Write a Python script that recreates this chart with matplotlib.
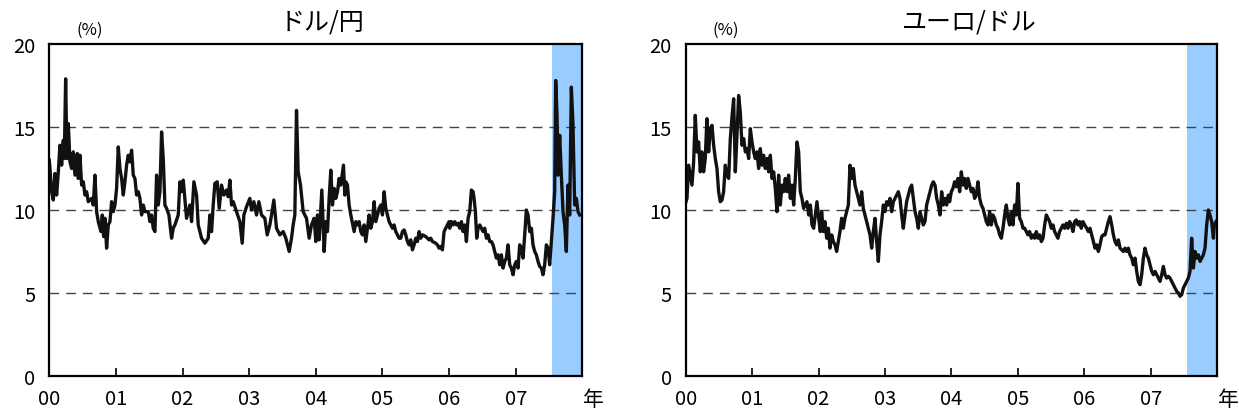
import matplotlib.pyplot as plt

plt.rcParams['font.family'] = ['Noto Sans CJK JP', 'DejaVu Sans']

titles = ['ドル/円', 'ユーロ/ドル']
year_ticks = [2000, 2001, 2002, 2003, 2004, 2005, 2006, 2007]
year_labels = ['00', '01', '02', '03', '04', '05', '06', '07']
shade_start = 2007.54
shade_end = 2008.0

# implied volatility, dollar/yen (%)
usdjpy_t = [
    2000.000, 2000.010, 2000.035, 2000.060, 2000.085, 2000.110, 2000.135, 2000.160, 2000.185, 2000.210,
    2000.225, 2000.245, 2000.265, 2000.285, 2000.310, 2000.335, 2000.360, 2000.385, 2000.420, 2000.435,
    2000.460, 2000.485, 2000.510, 2000.535, 2000.560, 2000.585, 2000.635, 2000.660, 2000.685, 2000.710,
    2000.735, 2000.775, 2000.795, 2000.815, 2000.835, 2000.860, 2000.885, 2000.910, 2000.935, 2000.960,
    2000.985, 2001.010, 2001.035, 2001.060, 2001.085, 2001.110, 2001.135, 2001.160, 2001.185, 2001.210,
    2001.235, 2001.260, 2001.285, 2001.310, 2001.335, 2001.360, 2001.385, 2001.410, 2001.435, 2001.485,
    2001.510, 2001.535, 2001.560, 2001.585, 2001.610, 2001.635, 2001.660, 2001.685, 2001.710, 2001.735,
    2001.760, 2001.795, 2001.835, 2001.860, 2001.885, 2001.935, 2001.960, 2001.985, 2002.010, 2002.060,
    2002.110, 2002.135, 2002.170, 2002.210, 2002.235, 2002.285, 2002.335, 2002.385, 2002.410, 2002.435,
    2002.460, 2002.485, 2002.520, 2002.550, 2002.585, 2002.620, 2002.660, 2002.685, 2002.710, 2002.735,
    2002.760, 2002.810, 2002.860, 2002.895, 2002.920, 2002.960, 2003.010, 2003.035, 2003.070, 2003.110,
    2003.145, 2003.185, 2003.235, 2003.270, 2003.310, 2003.335, 2003.370, 2003.410, 2003.460, 2003.510,
    2003.550, 2003.600, 2003.635, 2003.660, 2003.685, 2003.710, 2003.735, 2003.770, 2003.810, 2003.860,
    2003.900, 2003.935, 2003.975, 2004.000, 2004.025, 2004.050, 2004.090, 2004.125, 2004.150, 2004.175,
    2004.200, 2004.225, 2004.250, 2004.275, 2004.300, 2004.325, 2004.350, 2004.375, 2004.415, 2004.435,
    2004.450, 2004.475, 2004.500, 2004.525, 2004.550, 2004.575, 2004.600, 2004.625, 2004.650, 2004.675,
    2004.700, 2004.725, 2004.750, 2004.775, 2004.800, 2004.825, 2004.850, 2004.875, 2004.900, 2004.925,
    2004.950, 2004.975, 2005.000, 2005.025, 2005.050, 2005.075, 2005.100, 2005.125, 2005.150, 2005.175,
    2005.200, 2005.225, 2005.250, 2005.275, 2005.300, 2005.325, 2005.350, 2005.375, 2005.400, 2005.425,
    2005.450, 2005.475, 2005.500, 2005.525, 2005.550, 2005.575, 2005.600, 2005.650, 2005.700, 2005.725,
    2005.750, 2005.800, 2005.825, 2005.850, 2005.875, 2005.900, 2005.925, 2005.950, 2006.000, 2006.010,
    2006.035, 2006.060, 2006.085, 2006.110, 2006.135, 2006.160, 2006.185, 2006.210, 2006.235, 2006.260,
    2006.285, 2006.310, 2006.335, 2006.360, 2006.375, 2006.395, 2006.415, 2006.435, 2006.460, 2006.485,
    2006.510, 2006.535, 2006.560, 2006.585, 2006.610, 2006.635, 2006.660, 2006.685, 2006.710, 2006.735,
    2006.760, 2006.785, 2006.810, 2006.835, 2006.860, 2006.885, 2006.910, 2006.935, 2006.960, 2006.985,
    2007.010, 2007.035, 2007.060, 2007.085, 2007.110, 2007.135, 2007.160, 2007.185, 2007.210, 2007.235,
    2007.260, 2007.285, 2007.310, 2007.335, 2007.360, 2007.385, 2007.410, 2007.435, 2007.460, 2007.485,
    2007.510, 2007.535, 2007.560, 2007.585, 2007.600, 2007.620, 2007.635, 2007.660, 2007.685, 2007.710,
    2007.735, 2007.760, 2007.785, 2007.810, 2007.835, 2007.860, 2007.885, 2007.910, 2007.935, 2007.960,
]
usdjpy_v = [
    13.0, 12.5, 11.1, 10.6, 12.2, 10.9, 12.3, 13.9, 12.7, 14.2,
    13.1, 17.9, 13.1, 15.2, 12.9, 12.5, 13.5, 12.1, 13.4, 11.9,
    13.3, 11.5, 11.7, 10.9, 11.1, 10.5, 10.7, 10.3, 12.1, 9.9,
    9.3, 8.7, 9.7, 8.4, 9.5, 7.7, 9.1, 9.3, 10.5, 9.9,
    10.3, 11.3, 13.8, 12.5, 11.9, 10.9, 11.7, 12.7, 13.3, 12.9,
    13.6, 12.1, 11.9, 10.9, 11.1, 10.7, 9.7, 10.3, 9.9, 9.9,
    9.3, 9.7, 8.9, 8.7, 12.1, 10.3, 11.1, 14.7, 13.1, 10.3,
    10.1, 9.7, 8.3, 8.9, 9.1, 9.7, 11.7, 11.1, 11.8, 9.5,
    10.3, 9.3, 11.7, 10.9, 9.1, 8.3, 8.0, 8.3, 9.7, 8.7,
    10.3, 11.6, 11.7, 10.1, 11.5, 10.9, 11.2, 10.8, 11.8, 10.3,
    10.5, 9.9, 9.3, 8.0, 9.7, 10.2, 10.7, 10.0, 10.5, 9.7,
    10.5, 9.7, 9.5, 8.5, 9.1, 9.7, 10.6, 8.9, 8.5, 8.7,
    8.3, 7.5, 8.3, 9.1, 9.7, 16.0, 12.3, 11.5, 9.9, 9.5,
    8.3, 9.1, 9.5, 8.1, 9.7, 8.2, 11.2, 7.5, 9.3, 8.7,
    10.7, 12.4, 10.3, 11.3, 10.7, 11.1, 11.9, 11.5, 12.7, 10.9,
    11.7, 11.5, 10.3, 9.7, 9.2, 8.7, 9.3, 9.1, 9.3, 8.7,
    8.5, 9.1, 8.1, 8.9, 9.7, 8.9, 9.3, 10.5, 9.3, 9.7,
    10.1, 10.3, 9.7, 11.1, 10.1, 9.7, 9.3, 9.1, 8.9, 9.1,
    8.7, 8.5, 8.3, 8.3, 8.7, 8.8, 8.5, 8.1, 7.9, 8.2,
    7.6, 7.9, 8.3, 8.1, 8.7, 8.3, 8.5, 8.4, 8.2, 8.3,
    8.1, 8.0, 7.9, 7.7, 7.8, 7.6, 8.7, 8.9, 9.3, 8.9,
    9.3, 9.1, 9.3, 9.1, 9.2, 8.9, 9.3, 8.7, 9.1, 8.1,
    9.5, 9.9, 11.2, 11.1, 10.7, 9.9, 8.3, 8.9, 9.1, 8.9,
    8.7, 8.9, 8.3, 8.5, 8.1, 8.1, 7.9, 7.5, 7.1, 7.3,
    6.7, 7.3, 6.5, 6.9, 7.1, 7.9, 6.7, 6.5, 6.1, 6.7,
    6.9, 6.5, 7.9, 7.7, 7.1, 8.5, 10.0, 9.7, 8.7, 8.9,
    7.9, 7.5, 7.3, 6.9, 6.6, 6.5, 6.1, 6.7, 7.9, 7.7,
    6.7, 8.1, 9.5, 11.1, 17.8, 15.7, 12.1, 14.5, 12.1, 9.9,
    9.1, 7.5, 11.5, 9.7, 17.4, 15.1, 10.3, 10.7, 9.9, 9.7,
]

# implied volatility, euro/dollar (%)
eurusd_t = [
    2000.005, 2000.020, 2000.045, 2000.070, 2000.095, 2000.120, 2000.145, 2000.170, 2000.195, 2000.220,
    2000.245, 2000.270, 2000.295, 2000.320, 2000.346, 2000.371, 2000.396, 2000.421, 2000.446, 2000.471,
    2000.496, 2000.521, 2000.546, 2000.571, 2000.596, 2000.622, 2000.647, 2000.672, 2000.697, 2000.722,
    2000.747, 2000.772, 2000.797, 2000.822, 2000.847, 2000.873, 2000.898, 2000.923, 2000.948, 2000.973,
    2000.998, 2001.023, 2001.048, 2001.073, 2001.098, 2001.123, 2001.148, 2001.173, 2001.198, 2001.224,
    2001.249, 2001.274, 2001.299, 2001.324, 2001.349, 2001.374, 2001.399, 2001.424, 2001.449, 2001.474,
    2001.499, 2001.524, 2001.549, 2001.575, 2001.600, 2001.625, 2001.650, 2001.675, 2001.700, 2001.725,
    2001.750, 2001.775, 2001.800, 2001.825, 2001.851, 2001.876, 2001.901, 2001.926, 2001.951, 2001.976,
    2002.001, 2002.026, 2002.046, 2002.071, 2002.096, 2002.122, 2002.147, 2002.172, 2002.197, 2002.222,
    2002.247, 2002.272, 2002.297, 2002.322, 2002.347, 2002.372, 2002.397, 2002.423, 2002.448, 2002.473,
    2002.498, 2002.523, 2002.548, 2002.573, 2002.598, 2002.623, 2002.648, 2002.673, 2002.698, 2002.724,
    2002.749, 2002.774, 2002.799, 2002.824, 2002.849, 2002.874, 2002.899, 2002.924, 2002.949, 2002.974,
    2002.999, 2003.024, 2003.050, 2003.075, 2003.100, 2003.125, 2003.150, 2003.175, 2003.200, 2003.225,
    2003.250, 2003.275, 2003.300, 2003.325, 2003.351, 2003.376, 2003.401, 2003.426, 2003.451, 2003.476,
    2003.501, 2003.526, 2003.551, 2003.576, 2003.601, 2003.626, 2003.652, 2003.677, 2003.702, 2003.727,
    2003.752, 2003.777, 2003.802, 2003.827, 2003.852, 2003.877, 2003.902, 2003.927, 2003.953, 2003.972,
    2003.997, 2004.022, 2004.047, 2004.072, 2004.097, 2004.123, 2004.148, 2004.173, 2004.198, 2004.223,
    2004.248, 2004.273, 2004.298, 2004.323, 2004.348, 2004.373, 2004.398, 2004.424, 2004.449, 2004.474,
    2004.499, 2004.524, 2004.549, 2004.574, 2004.599, 2004.624, 2004.649, 2004.674, 2004.699, 2004.725,
    2004.750, 2004.775, 2004.800, 2004.825, 2004.850, 2004.875, 2004.900, 2004.925, 2004.950, 2004.975,
    2005.000, 2005.025, 2005.051, 2005.076, 2005.101, 2005.126, 2005.151, 2005.176, 2005.201, 2005.226,
    2005.251, 2005.276, 2005.301, 2005.326, 2005.352, 2005.377, 2005.402, 2005.427, 2005.452, 2005.477,
    2005.502, 2005.527, 2005.552, 2005.577, 2005.602, 2005.627, 2005.652, 2005.677, 2005.702, 2005.728,
    2005.753, 2005.778, 2005.803, 2005.828, 2005.853, 2005.878, 2005.903, 2005.928, 2005.953, 2005.978,
    2006.004, 2006.034, 2006.059, 2006.084, 2006.110, 2006.135, 2006.160, 2006.185, 2006.210, 2006.235,
    2006.260, 2006.285, 2006.310, 2006.335, 2006.360, 2006.385, 2006.411, 2006.436, 2006.461, 2006.486,
    2006.511, 2006.536, 2006.561, 2006.586, 2006.611, 2006.636, 2006.661, 2006.686, 2006.712, 2006.737,
    2006.762, 2006.787, 2006.812, 2006.837, 2006.862, 2006.887, 2006.912, 2006.937, 2006.962, 2006.987,
    2007.013, 2007.038, 2007.063, 2007.088, 2007.113, 2007.138, 2007.163, 2007.188, 2007.213, 2007.238,
    2007.263, 2007.288, 2007.313, 2007.339, 2007.364, 2007.389, 2007.414, 2007.439, 2007.464, 2007.489,
    2007.514, 2007.539, 2007.564, 2007.589, 2007.614, 2007.640, 2007.665, 2007.690, 2007.715, 2007.740,
    2007.765, 2007.790, 2007.815, 2007.840, 2007.865, 2007.890, 2007.915, 2007.941, 2007.955, 2007.981,
]
eurusd_v = [
    10.5, 10.7, 12.7, 12.1, 11.5, 12.9, 15.7, 13.5, 14.1, 12.3,
    13.5, 12.3, 13.1, 15.5, 13.5, 14.9, 15.1, 13.9, 13.1, 12.5,
    11.1, 10.5, 10.6, 11.1, 12.7, 12.1, 11.9, 14.3, 15.6, 16.7,
    12.3, 14.5, 16.9, 15.9, 13.9, 14.3, 13.5, 13.7, 13.1, 14.9,
    14.1, 13.5, 13.1, 13.5, 12.5, 13.7, 12.7, 13.3, 12.5, 13.1,
    12.3, 13.3, 11.9, 12.3, 11.3, 9.9, 12.1, 10.3, 11.5, 11.1,
    11.9, 11.1, 12.1, 10.7, 11.5, 10.3, 11.9, 14.1, 13.5, 11.1,
    10.7, 10.1, 10.3, 10.5, 9.7, 10.3, 9.1, 8.9, 9.7, 10.5,
    9.5, 8.7, 9.9, 8.7, 9.3, 8.3, 8.9, 7.7, 8.5, 8.1,
    7.9, 7.5, 8.1, 8.7, 9.5, 8.9, 9.5, 9.9, 10.3, 12.7,
    11.9, 12.5, 11.5, 11.1, 10.7, 10.3, 11.1, 10.1, 9.7, 9.3,
    8.9, 8.5, 7.7, 8.7, 9.5, 8.1, 6.9, 8.5, 9.3, 10.3,
    9.9, 10.5, 10.3, 10.7, 9.9, 10.5, 10.7, 10.9, 11.1, 10.7,
    9.7, 8.9, 9.7, 10.5, 10.9, 11.3, 11.5, 10.7, 9.9, 9.5,
    8.9, 9.9, 9.5, 9.1, 9.3, 10.3, 10.7, 11.1, 11.5, 11.7,
    11.5, 10.7, 10.3, 9.7, 11.1, 10.3, 10.7, 10.3, 10.9, 10.5,
    11.1, 11.3, 11.7, 11.4, 11.9, 11.1, 12.3, 11.5, 11.9, 11.3,
    11.9, 11.5, 11.1, 11.3, 10.7, 10.9, 11.7, 10.7, 10.3, 10.1,
    9.7, 9.3, 9.1, 9.9, 9.1, 9.7, 9.5, 9.1, 8.9, 8.5,
    8.3, 8.9, 9.7, 10.3, 9.5, 9.1, 9.9, 9.1, 10.3, 9.7,
    11.6, 9.5, 9.3, 8.9, 8.9, 8.7, 8.5, 8.7, 8.3, 8.5,
    8.3, 8.7, 8.3, 8.5, 8.1, 8.3, 9.1, 9.7, 9.5, 9.3,
    8.9, 9.1, 8.7, 8.5, 8.3, 8.7, 8.9, 9.1, 8.9, 9.2,
    8.9, 9.3, 9.1, 8.7, 9.3, 9.4, 9.1, 9.3, 8.9, 9.3,
    9.1, 8.9, 8.7, 8.9, 8.5, 8.1, 7.7, 7.9, 7.5, 7.9,
    8.4, 8.5, 8.5, 8.9, 9.3, 9.6, 9.1, 8.5, 8.1, 7.9,
    8.2, 7.7, 7.6, 7.5, 7.7, 7.5, 7.7, 7.3, 7.1, 6.7,
    7.1, 6.3, 5.7, 5.5, 6.1, 7.1, 7.7, 7.3, 7.1, 6.7,
    6.3, 6.1, 6.3, 6.1, 5.9, 5.7, 6.1, 6.6, 6.1, 5.9,
    6.0, 5.9, 5.7, 5.5, 5.3, 5.1, 5.0, 4.8, 4.9, 5.3,
    5.5, 5.7, 5.9, 6.3, 8.3, 6.5, 7.5, 7.1, 7.3, 6.9,
    7.1, 7.3, 7.7, 9.1, 10.0, 9.7, 9.3, 8.3, 9.1, 9.3,
]

fig = plt.figure(figsize=(12.39, 4.14), dpi=100)
ax1 = fig.add_axes([0.0398, 0.0894, 0.4302, 0.8019])
ax2 = fig.add_axes([0.5534, 0.0894, 0.4291, 0.8019])

panels = [
    (ax1, usdjpy_t, usdjpy_v, titles[0], 0.511),
    (ax2, eurusd_t, eurusd_v, titles[1], 0.531),
]

for ax, t, v, title, tx in panels:
    ax.axvspan(shade_start, shade_end, color='#99ccff', lw=0, zorder=1)
    for y in [5, 10, 15]:
        ax.axhline(y, color='#444444', lw=1, ls=(0, (7, 5)), zorder=2)
    ax.plot(t, v, color='#111111', lw=2.4, zorder=3)

    ax.set_xlim(2000, 2008)
    ax.set_ylim(0, 20)
    ax.set_xticks(year_ticks)
    ax.set_xticklabels(year_labels)
    ax.set_yticks([0, 5, 10, 15, 20])
    ax.tick_params(axis='x', direction='in', length=6, width=1.2, labelsize=14.5, pad=9)
    ax.tick_params(axis='y', length=0, labelsize=14.5, pad=10)
    for s in ax.spines.values():
        s.set_linewidth(1.6)
        s.set_zorder(4)

    ax.text(tx, 1.03, title, transform=ax.transAxes, ha='center', va='bottom', fontsize=18)
    ax.text(0.076, 1.045, '(%)', transform=ax.transAxes, ha='center', va='center', fontsize=12)
    ax.text(1.02, -0.07, '年', transform=ax.transAxes, ha='center', va='center', fontsize=15)

fig.savefig('out.png', dpi=100)
